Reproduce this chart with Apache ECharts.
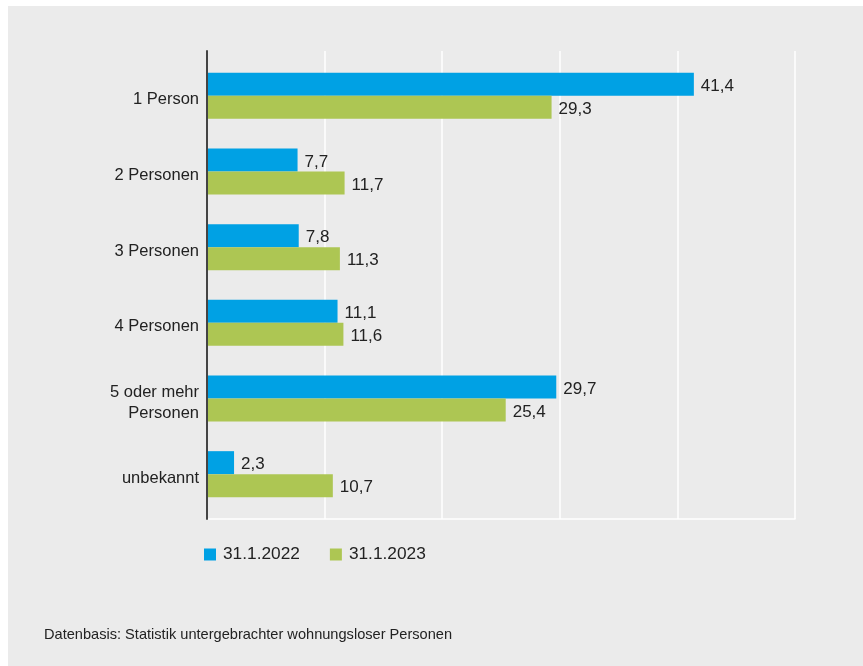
<!DOCTYPE html>
<html>
<head>
<meta charset="utf-8">
<script src="https://cdn.jsdelivr.net/npm/echarts@6/dist/echarts.min.js"></script>
<style>
html,body{margin:0;padding:0;background:#fff;}
#chart{width:863px;height:666px;}
</style>
</head>
<body>
<div id="chart"></div>
<script>
var categories = ['1 Person', '2 Personen', '3 Personen', '4 Personen', '5 oder mehr\nPersonen', 'unbekannt'];
var seriesNames = ['31.1.2022', '31.1.2023'];
var values2022 = [41.4, 7.7, 7.8, 11.1, 29.7, 2.3];
var values2023 = [29.3, 11.7, 11.3, 11.6, 25.4, 10.7];
var sourceText = 'Datenbasis: Statistik untergebrachter wohnungsloser Personen';

var FONT = '"Liberation Sans", Arial, Helvetica, sans-serif';
var chart = echarts.init(document.getElementById('chart'), null, {renderer: 'canvas'});

function fmt(p) { return String(p.value).replace('.', ','); }

chart.setOption({
  backgroundColor: '#ffffff',
  animation: false,
  textStyle: {fontFamily: FONT},
  graphic: [
    {type: 'rect', z: -10, silent: true, shape: {x: 8, y: 6, width: 855, height: 660}, style: {fill: '#ebebeb'}},
    {type: 'text', left: 44, top: 627, style: {text: sourceText, fontSize: 14.6, fontFamily: FONT, fill: '#222'}}
  ],
  legend: {
    left: 199, top: 541,
    itemWidth: 12, itemHeight: 12, itemGap: 30,
    icon: 'rect',
    textStyle: {fontSize: 17.3, color: '#222', fontFamily: FONT, padding: [0, 0, 0, 2]},
    data: seriesNames
  },
  grid: [
    {left: 207, top: 51, width: 588, height: 468, containLabel: false},
    {left: 207, top: 58, width: 588, height: 454, containLabel: false},
    {left: 207, top: 62, width: 588, height: 454, containLabel: false}
  ],
  xAxis: [
    {type: 'value', gridIndex: 0, min: 0, max: 50, interval: 10,
     axisLabel: {show: false}, axisTick: {show: false},
     axisLine: {show: true, lineStyle: {color: '#ffffff', width: 1.5}},
     splitLine: {show: true, lineStyle: {color: '#ffffff', width: 1.5}}},
    {type: 'value', gridIndex: 1, min: 0, max: 50, interval: 10, show: false,
     splitLine: {show: false}},
    {type: 'value', gridIndex: 2, min: 0, max: 50, interval: 10, show: false,
     splitLine: {show: false}}
  ],
  yAxis: [
    {type: 'category', gridIndex: 0, data: categories, inverse: true,
     axisLabel: {show: false}, axisTick: {show: false},
     axisLine: {show: true, lineStyle: {color: '#444', width: 2}},
     splitLine: {show: false}, z: 5},
    {type: 'category', gridIndex: 1, data: categories, inverse: true,
     axisLabel: {show: false}, axisTick: {show: false}, axisLine: {show: false}, splitLine: {show: false}},
    {type: 'category', gridIndex: 2, data: categories, inverse: true,
     axisTick: {show: false}, axisLine: {show: false}, splitLine: {show: false},
     axisLabel: {fontSize: 16.5, color: '#222', margin: 8, lineHeight: 21, align: 'right', fontFamily: FONT}}
  ],
  series: [
    {name: seriesNames[0], type: 'bar', xAxisIndex: 1, yAxisIndex: 1, data: values2022,
     barWidth: 23, barGap: '0%', itemStyle: {color: '#00a1e4'},
     label: {show: true, position: 'right', distance: 7, offset: [0, 2], fontSize: 17, color: '#222', formatter: fmt, fontFamily: FONT}},
    {name: seriesNames[1], type: 'bar', xAxisIndex: 1, yAxisIndex: 1, data: values2023,
     barWidth: 23, barGap: '0%', itemStyle: {color: '#adc653'},
     label: {show: true, position: 'right', distance: 7, offset: [0, 2], fontSize: 17, color: '#222', formatter: fmt, fontFamily: FONT}}
  ]
});
</script>
</body>
</html>
